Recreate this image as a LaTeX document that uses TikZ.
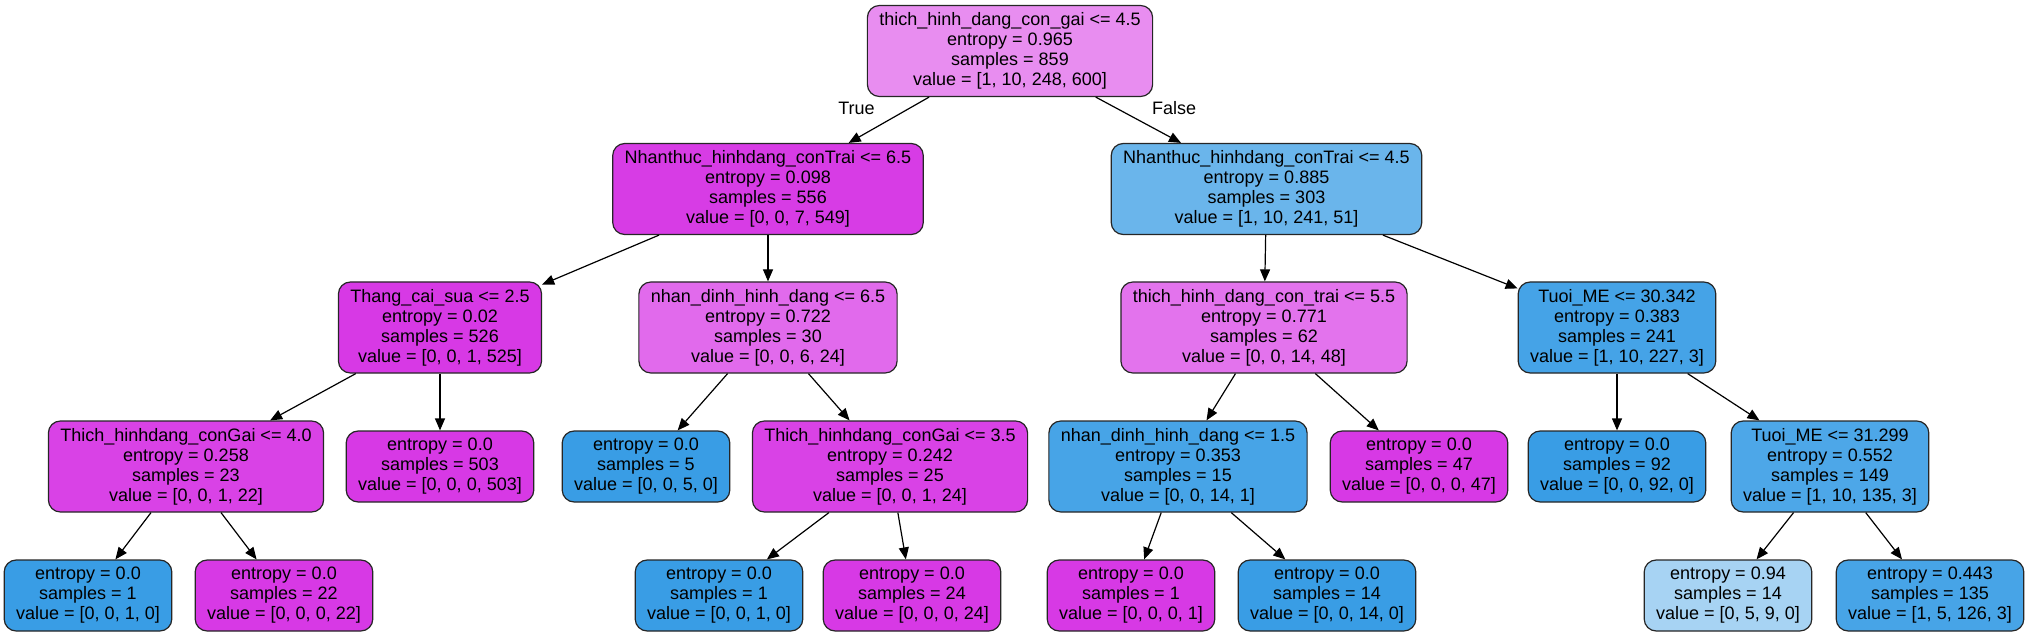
\documentclass[tikz,border=0pt]{standalone}
\usepackage{fontspec}
\setmainfont{Liberation Sans}
\usetikzlibrary{arrows.meta}

\definecolor{magA}{RGB}{232,141,240}
\definecolor{magB}{RGB}{215,60,229}
\definecolor{magC}{RGB}{215,57,229}
\definecolor{magD}{RGB}{225,106,236}
\definecolor{magE}{RGB}{227,115,237}
\definecolor{magF}{RGB}{217,66,230}
\definecolor{bluA}{RGB}{106,181,235}
\definecolor{bluB}{RGB}{69,163,231}
\definecolor{bluC}{RGB}{57,157,229}
\definecolor{bluD}{RGB}{71,164,231}
\definecolor{bluE}{RGB}{77,167,232}
\definecolor{bluF}{RGB}{167,211,243}

\begin{document}
\begin{tikzpicture}[x=1pt,y=-1pt,
		split/.style={draw=black!85,line width=1.2pt,rounded corners=12pt,align=center,
			inner xsep=12pt,inner ysep=0pt,minimum height=91pt,font=\fontsize{18}{20}\selectfont},
		leaf/.style={split,minimum height=71pt},
		edge/.style={line width=1.2pt,-{Triangle[length=12pt,width=10pt]}},
		lbl/.style={anchor=base,inner sep=0pt,font=\fontsize{18}{20}\selectfont}]
				\useasboundingbox (0,0) rectangle (2029,636);
				
				% level 0 and 1
				\node[split,fill=magA] (A) at (1010,51) {thich\_hinh\_dang\_con\_gai <= 4.5\\entropy = 0.965\\samples = 859\\value = [1, 10, 248, 600]};
				\node[split,fill=magB] (B) at (768,189) {Nhanthuc\_hinhdang\_conTrai <= 6.5\\entropy = 0.098\\samples = 556\\value = [0, 0, 7, 549]};
				\node[split,fill=bluA] (C) at (1266.5,189) {Nhanthuc\_hinhdang\_conTrai <= 4.5\\entropy = 0.885\\samples = 303\\value = [1, 10, 241, 51]};
				
				% level 2
				\node[split,fill=magC] (D) at (440,327.5) {Thang\_cai\_sua <= 2.5\\entropy = 0.02\\samples = 526\\value = [0, 0, 1, 525]};
				\node[split,fill=magD] (E) at (768,327.5) {nhan\_dinh\_hinh\_dang <= 6.5\\entropy = 0.722\\samples = 30\\value = [0, 0, 6, 24]};
				\node[split,fill=magE] (F) at (1264,327.5) {thich\_hinh\_dang\_con\_trai <= 5.5\\entropy = 0.771\\samples = 62\\value = [0, 0, 14, 48]};
				\node[split,fill=bluB] (G) at (1617,327.5) {Tuoi\_ME <= 30.342\\entropy = 0.383\\samples = 241\\value = [1, 10, 227, 3]};
				
				% level 3
				\node[split,fill=magF] (H) at (186,466.5) {Thich\_hinhdang\_conGai <= 4.0\\entropy = 0.258\\samples = 23\\value = [0, 0, 1, 22]};
				\node[leaf,fill=magC] (I) at (440,466.5) {entropy = 0.0\\samples = 503\\value = [0, 0, 0, 503]};
				\node[leaf,fill=bluC] (J) at (646,466.5) {entropy = 0.0\\samples = 5\\value = [0, 0, 5, 0]};
				\node[split,fill=magF] (K) at (890,466.5) {Thich\_hinhdang\_conGai <= 3.5\\entropy = 0.242\\samples = 25\\value = [0, 0, 1, 24]};
				\node[split,fill=bluD] (L) at (1178,466.5) {nhan\_dinh\_hinh\_dang <= 1.5\\entropy = 0.353\\samples = 15\\value = [0, 0, 14, 1]};
				\node[leaf,fill=magC] (M) at (1419,466.5) {entropy = 0.0\\samples = 47\\value = [0, 0, 0, 47]};
				\node[leaf,fill=bluC] (N) at (1617,466.5) {entropy = 0.0\\samples = 92\\value = [0, 0, 92, 0]};
				\node[split,fill=bluE] (O) at (1830,466.5) {Tuoi\_ME <= 31.299\\entropy = 0.552\\samples = 149\\value = [1, 10, 135, 3]};
				
				% level 4
				\node[leaf,fill=bluC] (P) at (88,595.5) {entropy = 0.0\\samples = 1\\value = [0, 0, 1, 0]};
				\node[leaf,fill=magC] (Q) at (284,595.5) {entropy = 0.0\\samples = 22\\value = [0, 0, 0, 22]};
				\node[leaf,fill=bluC] (R) at (719,595.5) {entropy = 0.0\\samples = 1\\value = [0, 0, 1, 0]};
				\node[leaf,fill=magC] (S) at (912,595.5) {entropy = 0.0\\samples = 24\\value = [0, 0, 0, 24]};
				\node[leaf,fill=magC] (T) at (1131,595.5) {entropy = 0.0\\samples = 1\\value = [0, 0, 0, 1]};
				\node[leaf,fill=bluC] (U) at (1327,595.5) {entropy = 0.0\\samples = 14\\value = [0, 0, 14, 0]};
				\node[leaf,fill=bluF] (V) at (1728,595.5) {entropy = 0.94\\samples = 14\\value = [0, 5, 9, 0]};
				\node[leaf,fill=bluD] (W) at (1930,595.5) {entropy = 0.443\\samples = 135\\value = [1, 5, 126, 3]};
				
				\node[lbl] (true) at (856.5,115) {True};
				\node[lbl] (false) at (1174,115) {False};
				
				\draw[edge] (A) -- (B);
				\draw[edge] (A) -- (C);
				\draw[edge] (B) -- (D);
				\draw[edge] (B) -- (E);
				\draw[edge] (C) -- (F);
				\draw[edge] (C) -- (G);
				\draw[edge] (D) -- (H);
				\draw[edge] (D) -- (I);
				\draw[edge] (E) -- (J);
				\draw[edge] (E) -- (K);
				\draw[edge] (F) -- (L);
				\draw[edge] (F) -- (M);
				\draw[edge] (G) -- (N);
				\draw[edge] (G) -- (O);
				\draw[edge] (H) -- (P);
				\draw[edge] (H) -- (Q);
				\draw[edge] (K) -- (R);
				\draw[edge] (K) -- (S);
				\draw[edge] (L) -- (T);
				\draw[edge] (L) -- (U);
				\draw[edge] (O) -- (V);
				\draw[edge] (O) -- (W);
			\end{tikzpicture}
\end{document}
